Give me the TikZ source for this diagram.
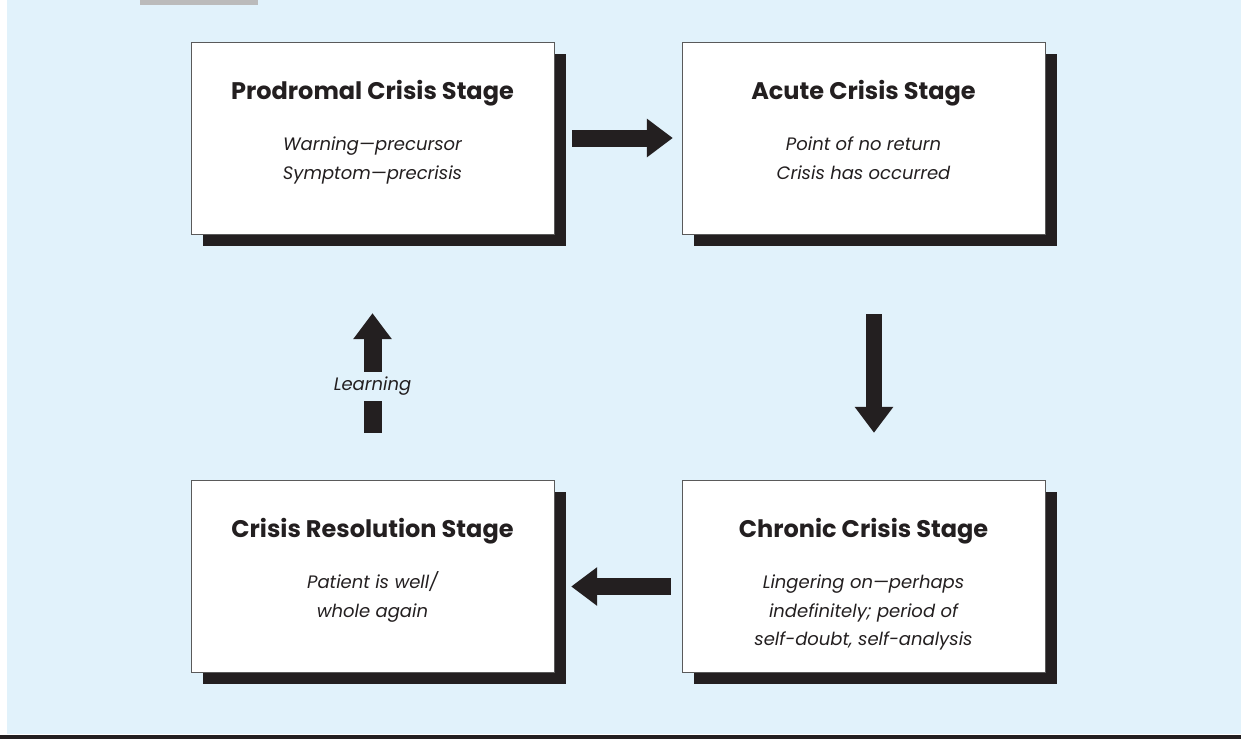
\documentclass[tikz,border=0pt]{standalone}
\usepackage{fontspec}
\setmainfont{Poppins}
\usetikzlibrary{arrows.meta,positioning,shadows}
\definecolor{bgc}{HTML}{E1F2FB}
\definecolor{ink}{HTML}{231F20}
\definecolor{tab}{HTML}{BBBBBB}
\definecolor{rim}{HTML}{5A5A5A}
\tikzset{
  stage/.style={rectangle, draw=rim, thin, fill=white, minimum width=363pt, minimum height=192pt, inner sep=0pt,
    general shadow={fill=ink, shadow xshift=11.5pt, shadow yshift=-11.5pt}},
  ttl/.style={font=\bfseries\fontsize{24}{28}\selectfont, text=ink, inner sep=0pt, anchor=base},
  txt/.style={font=\itshape\fontsize{18}{28.5}\selectfont, text=ink, align=center, inner sep=0pt},
  blk/.style={draw=ink, line width=17pt, -{Triangle[length=26pt, width=37pt]}},
}
\begin{document}
\begin{tikzpicture}[x=1pt, y=-1pt]
  \useasboundingbox (0,0) rectangle (1241,739);
  % panel, tab and rule
  \fill[bgc] (7,0) rectangle (1241,734);
  \fill[tab] (140,0) rectangle (258,5);
  \fill[ink] (0,735) rectangle (1241,739);
  % the four stages (body nodes sit on the baseline of their last line)
  \node[stage] (pro) at (372.5,138) {};
  \node[stage] (acu) at (863.5,138) {};
  \node[stage] (res) at (372.5,576) {};
  \node[stage] (chr) at (863.5,576) {};
  \node[ttl] (pro-t) at ([yshift=-58pt]pro.north) {Prodromal Crisis Stage};
  \node[txt, anchor=base] at ([yshift=-79.5pt]pro-t.base) {Warning—precursor\\Symptom—precrisis};
  \node[ttl] (acu-t) at ([yshift=-58pt]acu.north) {Acute Crisis Stage};
  \node[txt, anchor=base] at ([yshift=-79.5pt]acu-t.base) {Point of no return\\Crisis has occurred};
  \node[ttl] (res-t) at ([yshift=-58pt]res.north) {Crisis Resolution Stage};
  \node[txt, anchor=base] at ([yshift=-79.5pt]res-t.base) {Patient is well/\\whole again};
  \node[ttl] (chr-t) at ([yshift=-58pt]chr.north) {Chronic Crisis Stage};
  \node[txt, anchor=base] at ([yshift=-108pt]chr-t.base) {Lingering on—perhaps\\indefinitely; period of\\self-doubt, self-analysis};
  % block arrows
  \draw[blk, shorten <=18pt, shorten >=9pt] (pro) -- (acu);
  \draw[blk, line width=16pt, shorten <=80pt, shorten >=47pt] ([xshift=10.5pt]acu.south) -- ([xshift=10.5pt]chr.north);
  \draw[blk, shorten <=11pt, shorten >=17pt] ([yshift=-10.5pt]chr.west) -- ([yshift=-10.5pt]res.east);
  \draw[blk, line width=18pt, shorten <=47pt, shorten >=79pt] (res) -- (pro)
    node[pos=0.38, fill=bgc, txt, inner xsep=4pt, inner ysep=5pt] (learn) {Learning};
\end{tikzpicture}
\end{document}
